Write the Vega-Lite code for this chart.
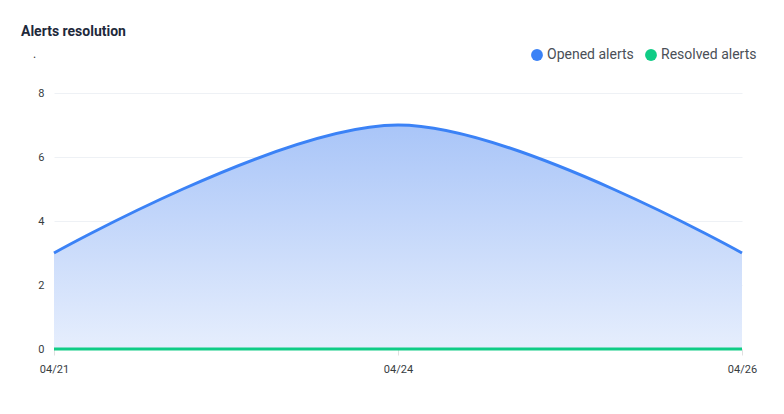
{
  "$schema": "https://vega.github.io/schema/vega-lite/v6.json",
  "autosize": {"type": "none"},
  "width": 688,
  "height": 256,
  "padding": {"left": 54, "top": 93, "right": 42, "bottom": 65},
  "background": "#ffffff",
  "config": {
    "font": "Roboto",
    "view": {"stroke": null}
  },
  "title": {
    "text": "Alerts resolution",
    "subtitle": ".",
    "anchor": "start",
    "frame": "group",
    "dx": -33,
    "offset": -12,
    "font": "Roboto",
    "fontSize": 14,
    "fontWeight": "bold",
    "color": "#1e293b",
    "subtitleFont": "Roboto",
    "subtitleFontSize": 12,
    "subtitleColor": "#333333",
    "subtitlePadding": 10,
    "encode": {"subtitle": {"update": {"dx": {"value": -21}}}}
  },
  "data": {
    "values": [
      {"date": "04/21", "series": "Opened alerts", "value": 3},
      {"date": "04/24", "series": "Opened alerts", "value": 7},
      {"date": "04/26", "series": "Opened alerts", "value": 3},
      {"date": "04/21", "series": "Resolved alerts", "value": 0},
      {"date": "04/24", "series": "Resolved alerts", "value": 0},
      {"date": "04/26", "series": "Resolved alerts", "value": 0}
    ]
  },
  "encoding": {
    "x": {
      "field": "date",
      "type": "ordinal",
      "scale": {"type": "point", "padding": 0},
      "axis": {
        "title": null,
        "labelAngle": 0,
        "labelFont": "Roboto",
        "labelFontSize": 11,
        "labelColor": "#373d3f",
        "labelPadding": 8,
        "domain": false,
        "ticks": true,
        "tickColor": "#e0e0e0",
        "tickSize": 6,
        "grid": false
      }
    },
    "y": {
      "field": "value",
      "type": "quantitative",
      "scale": {"domain": [0, 8], "nice": false},
      "axis": {
        "title": null,
        "values": [0, 2, 4, 6, 8],
        "domain": false,
        "ticks": false,
        "labelFont": "Roboto",
        "labelFontSize": 11,
        "labelColor": "#373d3f",
        "labelPadding": 10,
        "gridColor": "#eef1f5",
        "gridWidth": 1
      }
    }
  },
  "layer": [
    {
      "transform": [{"filter": "datum.series === 'Opened alerts'"}],
      "mark": {
        "type": "area",
        "interpolate": "cardinal",
        "color": {
          "gradient": "linear",
          "x1": 1, "y1": 1, "x2": 1, "y2": 0,
          "stops": [
            {"offset": 0, "color": "#e6eefd"},
            {"offset": 1, "color": "#a9c5f8"}
          ]
        }
      }
    },
    {
      "mark": {"type": "line", "interpolate": "cardinal", "strokeWidth": 3},
      "encoding": {
        "color": {
          "field": "series",
          "type": "nominal",
          "scale": {"domain": ["Opened alerts", "Resolved alerts"], "range": ["#3b82f6", "#10cc86"]},
          "legend": {
            "title": null,
            "orient": "none",
            "legendX": 476,
            "legendY": -45,
            "direction": "horizontal",
            "symbolType": "circle",
            "symbolSize": 140,
            "symbolStrokeWidth": 0,
            "symbolOpacity": 1,
            "labelFont": "Roboto",
            "labelFontSize": 14,
            "labelColor": "#4a4f57",
            "labelOffset": 3,
            "columnPadding": 10,
            "padding": 0,
            "encode": {
              "symbols": {"update": {"fill": {"scale": "color", "field": "value"}, "strokeWidth": {"value": 0}}}
            }
          }
        }
      }
    }
  ]
}
